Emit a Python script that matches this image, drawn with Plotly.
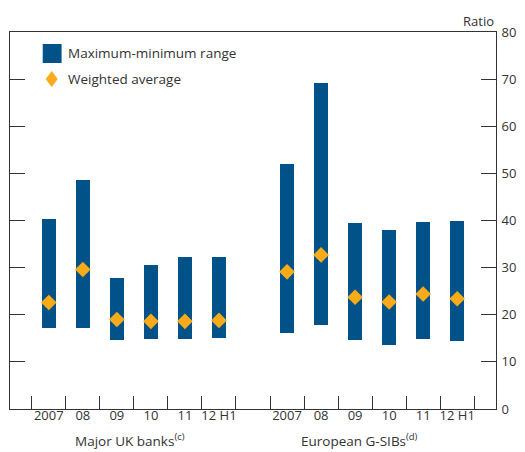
import plotly.graph_objects as go

# Data
uk_labels = ["2007", "08", "09", "10", "11", "12 H1"]
eu_labels = ["2007", "08", "09", "10", "11", "12 H1"]
uk_max = [40.4, 48.5, 27.9, 30.5, 32.2, 32.2]
uk_min = [17.2, 17.2, 14.7, 14.9, 14.9, 15.1]
uk_avg = [22.6, 29.6, 19.0, 18.6, 18.6, 18.8]
eu_max = [51.9, 69.1, 39.4, 37.9, 39.6, 39.8]
eu_min = [16.1, 17.8, 14.7, 13.6, 14.9, 14.4]
eu_avg = [29.1, 32.7, 23.7, 22.7, 24.4, 23.4]
groups = ["Major UK banks<sup>(c)</sup>", "European G-SIBs<sup>(d)</sup>"]

BLUE = "#005288"
ORANGE = "#FBAA19"
TXT = "#333333"
FONT = "Open Sans"

# positions: UK 0..5, gap at 6, EU 7..12
xpos = list(range(6)) + list(range(7, 13))
labels = uk_labels + eu_labels
vmax = uk_max + eu_max
vmin = uk_min + eu_min
vavg = uk_avg + eu_avg

fig = go.Figure()
fig.add_trace(go.Bar(
    x=xpos, y=[a - b for a, b in zip(vmax, vmin)], base=vmin,
    width=0.41, marker=dict(color=BLUE, line=dict(width=0)),
    showlegend=False, hoverinfo="skip",
))
fig.add_trace(go.Scatter(
    x=xpos, y=vavg, mode="markers",
    marker=dict(symbol="diamond", size=12, color=ORANGE, line=dict(width=0)),
    showlegend=False,
))
# invisible trace to activate the label axis
fig.add_trace(go.Scatter(x=xpos, y=vavg, xaxis="x2", mode="markers",
                         marker=dict(opacity=0), showlegend=False, hoverinfo="skip"))

xr = [-1.14, 13.14]
fig.update_layout(
    width=525, height=452,
    margin=dict(l=9, r=26, t=32, b=43),
    paper_bgcolor="white", plot_bgcolor="white",
    font=dict(family=FONT, size=13, color=TXT),
    bargap=0,
    xaxis=dict(range=xr, tickmode="array",
               tickvals=[i - 0.5 for i in range(14)],
               showticklabels=False,
               ticks="inside", ticklen=13, tickwidth=1, tickcolor=TXT,
               showline=True, linecolor=TXT, linewidth=1, mirror=True,
               showgrid=False, zeroline=False, fixedrange=True),
    xaxis2=dict(range=xr, overlaying="x", anchor="y", side="bottom",
                tickmode="array", tickvals=xpos, ticktext=labels,
                ticks="", showline=False, showgrid=False, zeroline=False,
                ticklabelstandoff=-3,
                tickfont=dict(family=FONT, size=13, color=TXT)),
    yaxis=dict(range=[0, 80], tickmode="linear", tick0=0, dtick=10,
               side="right", ticks="inside", ticklen=15, tickwidth=1,
               tickcolor=TXT, showline=True, linecolor=TXT, linewidth=1,
               mirror="ticks", showgrid=False, zeroline=False,
               ticklabelstandoff=2,
               tickfont=dict(family=FONT, size=13, color=TXT)),
)

W, H = 490.0, 377.0
def px(xp):
    return (xp - 9) / W
def py(yp):
    return (409 - yp) / H

# Legend
fig.add_shape(type="rect", xref="paper", yref="paper",
              x0=px(42), x1=px(61), y0=py(63), y1=py(44),
              fillcolor=BLUE, line=dict(width=0))
fig.add_shape(type="path", xref="paper", yref="paper",
              xsizemode="pixel", ysizemode="pixel",
              xanchor=px(51), yanchor=py(79),
              path="M0,8 L6,0 L0,-8 L-6,0 Z",
              fillcolor=ORANGE, line=dict(width=0))
fig.add_annotation(xref="paper", yref="paper", x=px(65), y=py(53),
                   text="Maximum-minimum range", showarrow=False,
                   xanchor="left", yanchor="middle",
                   font=dict(family=FONT, size=13.5, color=TXT))
fig.add_annotation(xref="paper", yref="paper", x=px(65), y=py(79),
                   text="Weighted average", showarrow=False,
                   xanchor="left", yanchor="middle",
                   font=dict(family=FONT, size=13.5, color=TXT))
# Ratio label
fig.add_annotation(xref="paper", yref="paper", x=px(499), y=py(21),
                   text="Ratio", showarrow=False,
                   xanchor="right", yanchor="middle",
                   font=dict(family=FONT, size=13, color=TXT))
# Group labels
for g, cx in zip(groups, [130, 361]):
    fig.add_annotation(xref="paper", yref="paper", x=px(cx), y=py(451),
                       text=g, showarrow=False,
                       xanchor="center", yanchor="bottom", borderpad=0,
                       font=dict(family=FONT, size=13.5, color=TXT))

fig.write_html("out.html",
               config={"displayModeBar": False},
               post_script="document.body.style.margin='0';"
                           "document.body.style.overflow='hidden';")
